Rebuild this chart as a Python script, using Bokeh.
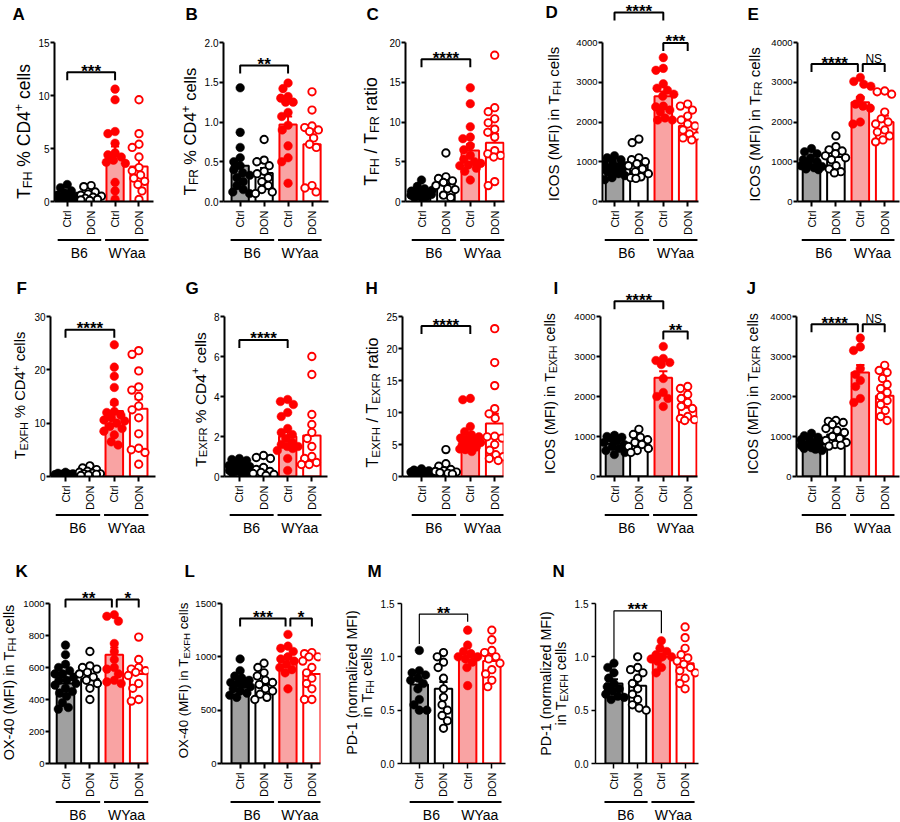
import math
from bokeh.plotting import figure
from bokeh.layouts import row, column
from bokeh.models import FixedTicker, Range1d, PrintfTickFormatter, ColumnDataSource
from bokeh.core.properties import value
from bokeh.embed import file_html
from bokeh.resources import INLINE

FONT = "Liberation Sans"
BLACK = "#000000"
RED = "#ff0000"
GRAY = "#a0a0a0"
PINK = "#f9a3a3"

CATEGORY_LABELS = ["Ctrl", "DON", "Ctrl", "DON"]
GROUP_LABELS = ["B6", "WYaa"]

# ---------------- data ----------------
A_B6_CTRL = [1.6, 1.3, 1.0, 0.8, 0.6, 0.5, 0.45, 0.4, 0.35, 0.3, 0.25, 0.2, 0.2, 0.15, 0.1]
A_B6_DON = [1.5, 1.4, 0.9, 0.7, 0.6, 0.5, 0.4, 0.3, 0.2, 0.15, 0.1]
A_WY_CTRL = [10.6, 9.6, 6.6, 6.4, 5.5, 4.6, 4.4, 4.2, 3.9, 3.7, 3.6, 1.8, 1.0, 0.2]
A_WY_DON = [9.6, 6.4, 5.4, 5.1, 4.2, 3.2, 2.9, 2.5, 2.2, 1.9, 1.6, 1.0, 0.2]
A_MEAN = [0.5, 0.6, 4.3, 3.3]
A_SEM = [0.1, 0.15, 0.9, 0.8]
A_TICKS = [0, 5, 10, 15]

B_B6_CTRL = [1.43, 0.87, 0.68, 0.55, 0.5, 0.45, 0.4, 0.36, 0.33, 0.3, 0.25, 0.2, 0.15, 0.12, 0.1]
B_B6_DON = [0.78, 0.52, 0.5, 0.45, 0.38, 0.35, 0.3, 0.25, 0.2, 0.15, 0.12, 0.1]
B_WY_CTRL = [1.49, 1.42, 1.32, 1.3, 1.25, 1.25, 1.12, 1.07, 0.96, 0.9, 0.7, 0.55, 0.5, 0.23]
B_WY_DON = [1.38, 1.15, 0.95, 0.93, 0.9, 0.88, 0.8, 0.72, 0.68, 0.2, 0.17, 0.12]
B_MEAN = [0.45, 0.36, 0.97, 0.72]
B_SEM = [0.09, 0.06, 0.1, 0.12]
B_TICKS = [0, 0.5, 1.0, 1.5, 2.0]

C_B6_CTRL = [2.7, 1.9, 1.6, 1.4, 1.3, 1.2, 1.1, 1.0, 1.0, 0.9, 0.8, 0.7, 0.6, 0.5, 0.4]
C_B6_DON = [6.1, 3.1, 2.9, 2.6, 2.4, 2.0, 1.6, 1.5, 0.8, 0.5]
C_WY_CTRL = [14.3, 12.3, 9.4, 8.1, 7.9, 7.0, 6.5, 5.8, 5.3, 5.0, 4.8, 4.6, 4.5, 4.2, 3.8, 2.7]
C_WY_DON = [18.4, 11.8, 11.3, 10.4, 9.9, 9.1, 8.7, 8.1, 6.4, 6.0, 5.8, 5.6, 2.5, 2.0]
C_MEAN = [1.1, 2.2, 6.4, 7.4]
C_SEM = [0.15, 0.5, 0.8, 1.1]
C_TICKS = [0, 5, 10, 15, 20]

D_B6_CTRL = [1150, 1100, 1050, 1000, 950, 900, 880, 850, 820, 800, 780, 750, 700, 650, 600, 550]
D_B6_DON = [1570, 1480, 1100, 1050, 1000, 950, 900, 820, 750, 700, 620, 600, 580]
D_WY_CTRL = [3620, 3350, 3300, 2960, 2850, 2800, 2700, 2650, 2400, 2380, 2300, 2250, 2100, 2050, 2050]
D_WY_DON = [2450, 2400, 2300, 2150, 2050, 1950, 1900, 1800, 1700, 1650, 1600, 1550]
D_MEAN = [870, 910, 2650, 1900]
D_SEM = [45, 85, 120, 90]
D_TICKS = [0, 1000, 2000, 3000, 4000]

E_B6_CTRL = [1330, 1250, 1200, 1100, 1050, 1000, 950, 900, 880, 850, 820, 800]
E_B6_DON = [1650, 1380, 1300, 1270, 1200, 1150, 1100, 1050, 900, 820, 750, 720]
E_WY_CTRL = [3120, 3020, 2950, 2900, 2600, 2450, 2400, 2350, 2000, 1950]
E_WY_DON = [2780, 2760, 2700, 2250, 2080, 2000, 1950, 1800, 1750, 1650, 1550, 1500]
E_MEAN = [1000, 1120, 2500, 2000]
E_SEM = [45, 80, 130, 160]
E_TICKS = [0, 1000, 2000, 3000, 4000]

F_B6_CTRL = [0.8, 0.6, 0.5, 0.4, 0.4, 0.35, 0.3, 0.3, 0.25, 0.2, 0.2, 0.15, 0.1, 0.1]
F_B6_DON = [2.0, 1.6, 1.3, 1.0, 0.8, 0.6, 0.5, 0.5, 0.4, 0.3, 0.2]
F_WY_CTRL = [24.7, 20.5, 18.8, 16.7, 13.9, 12.2, 12.0, 11.5, 11.0, 10.6, 10.4, 10.0, 9.4, 9.0, 8.5, 7.8, 6.5, 5.9]
F_WY_DON = [23.6, 22.9, 19.8, 16.8, 16.2, 15.0, 13.2, 12.5, 11.0, 8.0, 5.3, 5.0, 4.5, 2.3]
F_MEAN = [0.3, 0.8, 12.3, 12.7]
F_SEM = [0.05, 0.18, 1.2, 1.8]
F_TICKS = [0, 10, 20, 30]

G_B6_CTRL = [0.9, 0.85, 0.8, 0.7, 0.6, 0.55, 0.5, 0.45, 0.4, 0.35, 0.3, 0.3, 0.25, 0.2, 0.2, 0.15]
G_B6_DON = [1.05, 0.95, 0.9, 0.45, 0.35, 0.25, 0.2, 0.15, 0.1, 0.05]
G_WY_CTRL = [3.85, 3.75, 3.6, 3.2, 3.0, 2.4, 2.2, 2.1, 1.9, 1.7, 1.6, 1.5, 1.5, 1.4, 1.3, 0.9, 0.3]
G_WY_DON = [6.0, 5.1, 3.1, 2.6, 2.2, 1.9, 1.5, 1.0, 0.9, 0.7, 0.6, 0.6]
G_MEAN = [0.45, 0.4, 2.0, 2.05]
G_SEM = [0.06, 0.12, 0.22, 0.5]
G_TICKS = [0, 2, 4, 6, 8]

H_B6_CTRL = [1.2, 1.0, 0.9, 0.8, 0.75, 0.7, 0.6, 0.6, 0.5, 0.45, 0.4, 0.35, 0.3, 0.3, 0.25]
H_B6_DON = [4.2, 2.0, 1.6, 1.1, 0.9, 0.8, 0.7, 0.6, 0.5, 0.4]
H_WY_CTRL = [12.2, 12.0, 7.8, 7.0, 6.5, 6.2, 6.0, 5.8, 5.5, 5.3, 5.0, 4.8, 4.6, 4.3, 4.2, 3.9]
H_WY_DON = [23.1, 17.8, 14.2, 10.6, 9.8, 9.1, 6.3, 6.2, 6.0, 5.0, 4.1, 3.4, 3.1, 2.8, 2.5]
H_MEAN = [0.6, 1.3, 6.0, 8.3]
H_SEM = [0.07, 0.35, 0.6, 1.5]
H_TICKS = [0, 5, 10, 15, 20, 25]

I_B6_CTRL = [1030, 1000, 980, 950, 900, 850, 800, 750, 700, 650, 600, 550]
I_B6_DON = [1180, 1050, 980, 920, 850, 800, 750, 700, 650, 600]
I_WY_CTRL = [3250, 2950, 2900, 2850, 2800, 2450, 2100, 2000, 1950, 1750]
I_WY_DON = [2250, 2200, 2050, 1950, 1850, 1750, 1700, 1500, 1450, 1420, 1400]
I_MEAN = [820, 800, 2470, 1720]
I_SEM = [45, 50, 160, 80]
I_TICKS = [0, 1000, 2000, 3000, 4000]

J_B6_CTRL = [1080, 1020, 980, 950, 920, 880, 850, 800, 780, 750, 720, 700, 680, 650]
J_B6_DON = [1400, 1380, 1350, 1300, 1200, 1150, 1100, 1000, 950, 900, 850, 800, 780, 760]
J_WY_CTRL = [3460, 3240, 3150, 2700, 2550, 2400, 2250, 1950, 1850]
J_WY_DON = [2780, 2650, 2600, 2450, 2300, 2200, 2100, 2000, 1900, 1800, 1650, 1500, 1400]
J_MEAN = [840, 1050, 2600, 2020]
J_SEM = [35, 55, 190, 110]
J_TICKS = [0, 1000, 2000, 3000, 4000]

K_B6_CTRL = [740, 680, 620, 600, 580, 560, 560, 540, 520, 520, 500, 490, 470, 450, 440, 420, 380, 350, 340]
K_B6_DON = [700, 610, 600, 590, 570, 560, 540, 520, 500, 470, 400]
K_WY_CTRL = [930, 920, 890, 750, 700, 650, 600, 590, 560, 520, 510, 500]
K_WY_DON = [790, 650, 600, 590, 580, 570, 550, 500, 470, 400, 390]
K_MEAN = [500, 530, 680, 560]
K_SEM = [25, 25, 45, 35]
K_TICKS = [0, 200, 400, 600, 800, 1000]

L_B6_CTRL = [980, 870, 820, 800, 780, 760, 750, 740, 720, 700, 680, 660, 640, 620]
L_B6_DON = [940, 900, 850, 820, 780, 760, 740, 700, 680, 650, 620, 600]
L_WY_CTRL = [1210, 1100, 1080, 1050, 1000, 980, 960, 930, 900, 880, 850, 700]
L_WY_DON = [1040, 1030, 1000, 1000, 960, 900, 850, 800, 750, 700, 600, 600]
L_MEAN = [760, 740, 980, 840]
L_SEM = [25, 30, 35, 45]
L_TICKS = [0, 500, 1000, 1500]

M_B6_CTRL = [1.06, 0.87, 0.85, 0.83, 0.8, 0.78, 0.75, 0.7, 0.6, 0.55, 0.5, 0.5]
M_B6_DON = [1.04, 1.0, 0.95, 0.9, 0.8, 0.7, 0.62, 0.55, 0.5, 0.45, 0.4, 0.33]
M_WY_CTRL = [1.25, 1.11, 1.05, 1.03, 1.0, 1.0, 0.98, 0.95, 0.9, 0.73]
M_WY_DON = [1.25, 1.16, 1.06, 1.04, 1.0, 0.98, 0.94, 0.88, 0.84, 0.78, 0.72]
M_MEAN = [0.74, 0.70, 1.0, 0.96]
M_SEM = [0.05, 0.065, 0.04, 0.05]
M_TICKS = [0, 0.5, 1.0, 1.5]

N_B6_CTRL = [0.94, 0.9, 0.85, 0.8, 0.75, 0.72, 0.7, 0.68, 0.65, 0.63, 0.62, 0.6]
N_B6_DON = [1.0, 0.9, 0.88, 0.85, 0.8, 0.75, 0.7, 0.65, 0.6, 0.55, 0.52, 0.5]
N_WY_CTRL = [1.15, 1.08, 1.05, 1.02, 1.0, 1.0, 0.98, 0.96, 0.9, 0.85]
N_WY_DON = [1.28, 1.18, 1.08, 1.02, 0.99, 0.96, 0.93, 0.9, 0.87, 0.85, 0.8, 0.75, 0.7]
N_MEAN = [0.75, 0.73, 1.0, 0.94]
N_SEM = [0.04, 0.05, 0.03, 0.05]
N_TICKS = [0, 0.5, 1.0, 1.5]

# ---------------- title texts ----------------
T_FH = [("T", "n"), ("FH", "sub")]
T_FR = [("T", "n"), ("FR", "sub")]
T_EXFH = [("T", "n"), ("EXFH", "sub")]
T_EXFR = [("T", "n"), ("EXFR", "sub")]
PCT = [(" % CD4", "n"), ("+", "sup"), (" cells", "n")]
CELLS = [(" cells", "n")]
ICOS = [("ICOS (MFI) in ", "n")]
OX40 = [("OX-40 (MFI) in ", "n")]
RATIO = [(" ratio", "n")]
SLASH = [(" / ", "n")]

# ---------------- layout (canvas pixels) ----------------
ROWS = [dict(top=0, height=265, zero=201, axis_top=42, tstrip=0),
        dict(top=265, height=280, zero=476, axis_top=316, tstrip=0),
        dict(top=545, height=277, zero=763, axis_top=603, tstrip=34)]

PANELS = [
    dict(letter="A", row=0, left=0, width=180, axis=50, right=153, cat1=65,
         data=(A_B6_CTRL, A_B6_DON, A_WY_CTRL, A_WY_DON), mean=A_MEAN, sem=A_SEM,
         ymax=15, ticks=A_TICKS, fmt="%d", title=[T_FH + PCT], tfs=17.5, tbx=[29.5], tcy=131,
         lpos=(12, 4), brackets=[(1, 3, 12.2, "***", None, None)]),
    dict(letter="B", row=0, left=180, width=180, axis=221, right=328, cat1=238,
         data=(B_B6_CTRL, B_B6_DON, B_WY_CTRL, B_WY_DON), mean=B_MEAN, sem=B_SEM,
         ymax=2, ticks=B_TICKS, fmt="%.1f", title=[T_FR + PCT], tfs=16.5, tbx=[195.6], tcy=131,
         lpos=(185, 4), brackets=[(1, 3, 1.71, "**", None, None)]),
    dict(letter="C", row=0, left=360, width=180, axis=405, right=504, cat1=421,
         data=(C_B6_CTRL, C_B6_DON, C_WY_CTRL, C_WY_DON), mean=C_MEAN, sem=C_SEM,
         ymax=20, ticks=C_TICKS, fmt="%d", title=[T_FH + SLASH + T_FR + RATIO], tfs=17.5, tbx=[377], tcy=131,
         lpos=(366, 4), brackets=[(1, 3, 17.9, "****", None, None)]),
    dict(letter="D", row=0, left=540, width=180, axis=602, right=698, cat1=614,
         data=(D_B6_CTRL, D_B6_DON, D_WY_CTRL, D_WY_DON), mean=D_MEAN, sem=D_SEM,
         ymax=4000, ticks=D_TICKS, fmt="%d", title=[ICOS + T_FH + CELLS], tfs=15, tbx=[558], tcy=123.5,
         lpos=(545, 2), brackets=[(1, 3, 4754, "****", None, None), (3, 4, 3990, "***", None, None)]),
    dict(letter="E", row=0, left=720, width=180, axis=797, right=899, cat1=811,
         data=(E_B6_CTRL, E_B6_DON, E_WY_CTRL, E_WY_DON), mean=E_MEAN, sem=E_SEM,
         ymax=4000, ticks=E_TICKS, fmt="%d", title=[ICOS + T_FR + CELLS], tfs=15, tbx=[759], tcy=124,
         lpos=(747, 4), brackets=[(1, 2.9, 3457, "****", None, None), (3.1, 4, 3457, "NS", None, None)]),
    dict(letter="F", row=1, left=0, width=180, axis=50, right=155, cat1=65,
         data=(F_B6_CTRL, F_B6_DON, F_WY_CTRL, F_WY_DON), mean=F_MEAN, sem=F_SEM,
         ymax=30, ticks=F_TICKS, fmt="%d", title=[T_EXFH + PCT], tfs=14.7, tbx=[25], tcy=395,
         lpos=(16, 278), brackets=[(1, 3, 27.5, "****", None, None)]),
    dict(letter="G", row=1, left=180, width=180, axis=223, right=327, cat1=238,
         data=(G_B6_CTRL, G_B6_DON, G_WY_CTRL, G_WY_DON), mean=G_MEAN, sem=G_SEM,
         ymax=8, ticks=G_TICKS, fmt="%d", title=[T_EXFR + PCT], tfs=15.5, tbx=[205], tcy=399,
         lpos=(185, 278), brackets=[(1, 3, 6.83, "****", None, None)]),
    dict(letter="H", row=1, left=360, width=180, axis=402, right=503, cat1=421,
         data=(H_B6_CTRL, H_B6_DON, H_WY_CTRL, H_WY_DON), mean=H_MEAN, sem=H_SEM,
         ymax=25, ticks=H_TICKS, fmt="%d", title=[T_EXFH + SLASH + T_EXFR + RATIO], tfs=16, tbx=[377.5], tcy=402,
         lpos=(365, 278), brackets=[(1, 3, 23.5, "****", None, None)]),
    dict(letter="I", row=1, left=540, width=180, axis=600, right=697, cat1=614,
         data=(I_B6_CTRL, I_B6_DON, I_WY_CTRL, I_WY_DON), mean=I_MEAN, sem=I_SEM,
         ymax=4000, ticks=I_TICKS, fmt="%d", title=[ICOS + T_EXFH + CELLS], tfs=14.3, tbx=[555], tcy=393,
         lpos=(553, 278), brackets=[(1, 3, 4383, "****", None, None), (3, 4, 3625, "**", None, None)]),
    dict(letter="J", row=1, left=720, width=180, axis=796, right=899, cat1=811,
         data=(J_B6_CTRL, J_B6_DON, J_WY_CTRL, J_WY_DON), mean=J_MEAN, sem=J_SEM,
         ymax=4000, ticks=J_TICKS, fmt="%d", title=[ICOS + T_EXFR + CELLS], tfs=14.3, tbx=[758], tcy=393,
         lpos=(746, 278), brackets=[(1, 2.9, 3807, "****", None, None), (3.1, 4, 3807, "NS", None, None)]),
    dict(letter="K", row=2, left=0, width=175, axis=49, right=148, cat1=65,
         data=(K_B6_CTRL, K_B6_DON, K_WY_CTRL, K_WY_DON), mean=K_MEAN, sem=K_SEM,
         ymax=1000, ticks=K_TICKS, fmt="%d", title=[OX40 + T_FH + CELLS], tfs=14.5, tbx=[14], tcy=682,
         lpos=(15, 561), brackets=[(1, 2.9, 1025, "**", None, None), (3.1, 4, 1025, "*", None, None)]),
    dict(letter="L", row=2, left=175, width=165, axis=218, right=320, cat1=238,
         data=(L_B6_CTRL, L_B6_DON, L_WY_CTRL, L_WY_DON), mean=L_MEAN, sem=L_SEM,
         ymax=1500, ticks=L_TICKS, fmt="%d", title=[OX40 + T_EXFH + CELLS], tfs=13.3, tbx=[187.8], tcy=680,
         lpos=(184, 561), brackets=[(1, 2.9, 1359, "***", None, None), (3.1, 4, 1359, "*", None, None)]),
    dict(letter="M", row=2, left=340, width=190, axis=400, right=505, cat1=418,
         data=(M_B6_CTRL, M_B6_DON, M_WY_CTRL, M_WY_DON), mean=M_MEAN, sem=M_SEM,
         ymax=1.5, ticks=M_TICKS, fmt="%.1f",
         title=[[("PD-1 (normalized MFI)", "n")], [("in ", "n")] + T_FH + CELLS], tfs=14.3, tbx=[357, 372], tcy=682,
         lpos=(367, 561), brackets=[(1, 3, 1.40, "**", 1.12, 1.33)], thin=True),
    dict(letter="N", row=2, left=530, width=190, axis=592, right=698, cat1=611,
         data=(N_B6_CTRL, N_B6_DON, N_WY_CTRL, N_WY_DON), mean=N_MEAN, sem=N_SEM,
         ymax=1.5, ticks=N_TICKS, fmt="%.1f",
         title=[[("PD-1 (normalized MFI)", "n")], [("in ", "n")] + T_EXFH + CELLS], tfs=14.3, tbx=[551, 566], tcy=683,
         lpos=(552, 561), brackets=[(1, 3, 1.43, "***", 0.96, 1.22)], thin=True),
]

CAT_STEP = 24.4      # px between category centres
BAR_W = 0.72         # bar width in category units
X_BORDER = 37        # px below the x axis kept for the rotated tick labels
SUB_DX = 0.12        # subscript baseline shift (em of the main size)
SUP_DX = -0.42       # superscript baseline shift
SMALL = 0.72         # sub/superscript size factor

# Arial / Liberation Sans advance widths (1/1000 em)
AW = {" ": 278, "%": 889, "(": 333, ")": 333, "+": 584, "-": 333, "/": 278, ".": 278,
      "0": 556, "1": 556, "2": 556, "3": 556, "4": 556, "5": 556, "6": 556, "8": 556,
      "A": 667, "B": 667, "C": 722, "D": 722, "E": 667, "F": 611, "G": 778, "H": 722,
      "I": 278, "J": 500, "K": 667, "L": 556, "M": 833, "N": 722,
      "O": 778, "P": 667, "R": 722, "S": 667, "T": 611, "X": 667,
      "a": 556, "c": 500, "d": 556, "e": 556, "i": 222, "l": 222, "m": 833, "n": 556,
      "o": 556, "r": 333, "s": 500, "t": 278, "z": 500}


def tw(s, f):
    return sum(AW.get(c, 556) for c in s) / 1000.0 * f


def swarm(vals, ppu_y, ppu_x, dot=7.6, maxw=10.5):
    """Deterministic beeswarm layout: horizontal offsets so dots do not overlap."""
    order = sorted(range(len(vals)), key=lambda i: -vals[i])
    placed = []
    xs = [0.0] * len(vals)
    for i in order:
        y = vals[i] * ppu_y
        near = [(px, py) for px, py in placed if abs(py - y) < dot]
        cands = [0.0]
        for px, py in near:
            dx = math.sqrt(dot * dot - (py - y) ** 2)
            cands += [px + dx, px - dx]
        cands.sort(key=lambda c: (abs(c), c))
        chosen = None
        for c in cands:
            if abs(c) > maxw + 1e-9:
                continue
            if all((c - px) ** 2 + (y - py) ** 2 >= dot * dot - 1e-6 for px, py in near):
                chosen = c
                break
        if chosen is None:
            best = None
            k = -maxw
            while k <= maxw + 1e-9:
                dmin = min(math.hypot(k - px, y - py) for px, py in near)
                if best is None or dmin > best[0] + 1e-9:
                    best = (dmin, k)
                k += 0.5
            chosen = best[1]
        placed.append((chosen, y))
        xs[i] = chosen / ppu_x
    return xs


def bare_figure(w, h, xr, yr, mbl=0, mbr=0):
    p = figure(width=w, height=h, x_range=xr, y_range=yr, x_axis_type=None, y_axis_type=None,
               output_backend="svg", toolbar_location=None,
               min_border_left=mbl, min_border_right=mbr, min_border_top=0, min_border_bottom=0)
    p.outline_line_color = None
    p.background_fill_color = "white"
    p.border_fill_color = "white"
    p.xgrid.visible = False
    p.ygrid.visible = False
    return p


def title_extent(P):
    """right-most pixel (panel coords) reached by the rotated title text boxes"""
    f = P["tfs"]
    ext = 0
    for line, bx in zip(P["title"], P["tbx"]):
        has_sub = any(k == "sub" for _, k in line)
        ext = max(ext, bx - P["left"] + (0.27 * f if has_sub else 0.21 * f) + 0.5)
    return int(math.ceil(ext))


def make_panel(P):
    R = ROWS[P["row"]]
    H = R["height"]
    TS = R["tstrip"]
    top = R["top"] + TS
    thin = P.get("thin", False)
    lw = 1.5 if thin else 2

    SL = title_extent(P)
    if TS == 0:
        lx = P["lpos"][0] - P["left"]
        SL = max(SL, int(math.ceil(lx + tw(P["letter"], 17) * 1.1)) + 1)
    tick_fs = 9.5 if P["ymax"] >= 1000 else 10
    standoff = 3 if thin else 1
    need = 4 + standoff + max(tw(P["fmt"] % t, tick_fs) for t in P["ticks"])
    mbl = max(P["axis"] - P["left"] - SL, int(math.ceil(need)))
    mw = P["width"] - SL
    mbr = P["left"] + P["width"] - P["right"]

    fh = R["zero"] - top
    main_h = fh + X_BORDER
    ppu = (R["zero"] - R["axis_top"]) / P["ymax"]
    yend = fh / ppu
    frame_w = mw - mbl - mbr
    x0 = 1 - (P["cat1"] - (P["left"] + SL + mbl)) / CAT_STEP
    x1 = x0 + frame_w / CAT_STEP
    xr = Range1d(x0, x1)

    p = figure(width=mw, height=main_h, x_range=xr, y_range=Range1d(0, yend),
               output_backend="svg", toolbar_location=None,
               min_border_left=mbl, min_border_right=mbr,
               min_border_top=0, min_border_bottom=X_BORDER)
    p.xgrid.visible = False
    p.ygrid.visible = False
    p.outline_line_color = None
    p.background_fill_color = "white"
    p.border_fill_color = "white"

    yax = p.yaxis[0]
    yax.ticker = FixedTicker(ticks=P["ticks"])
    yax.formatter = PrintfTickFormatter(format=P["fmt"])
    yax.bounds = (0, P["ymax"])
    yax.axis_line_width = lw
    yax.axis_line_color = BLACK
    yax.major_tick_line_width = lw
    yax.major_tick_line_color = BLACK
    yax.major_tick_out = 4
    yax.major_tick_in = 0
    yax.minor_tick_line_color = None
    yax.major_label_standoff = standoff
    yax.major_label_text_font = FONT
    yax.major_label_text_font_size = f"{tick_fs}px"
    yax.major_label_text_color = BLACK

    xax = p.xaxis[0]
    xax.ticker = FixedTicker(ticks=[1, 2, 3, 4])
    xax.major_label_overrides = {i + 1: t for i, t in enumerate(CATEGORY_LABELS)}
    xax.major_label_orientation = math.pi / 2
    xax.axis_line_width = lw
    xax.axis_line_color = BLACK
    xax.major_tick_line_width = lw
    xax.major_tick_line_color = BLACK
    xax.major_tick_out = 5
    xax.major_tick_in = 0
    xax.minor_tick_line_color = None
    xax.major_label_standoff = 4
    xax.major_label_text_font = FONT
    xax.major_label_text_font_size = "11px"
    xax.major_label_text_color = BLACK

    # bars (group means)
    xs = [1, 2, 3, 4]
    fills = [GRAY, "white", PINK, "white"]
    lines = [BLACK, BLACK, RED, RED]
    src = ColumnDataSource(dict(x=xs, top=P["mean"], fill=fills, line=lines))
    p.vbar(x="x", top="top", bottom=0, width=BAR_W, fill_color="fill", line_color="line",
           line_width=2, source=src)

    # SEM whiskers
    hi = [m + s for m, s in zip(P["mean"], P["sem"])]
    p.segment(x0=xs, y0=P["mean"], x1=xs, y1=hi, line_color=lines, line_width=2)
    p.segment(x0=[x - 0.17 for x in xs], y0=hi, x1=[x + 0.17 for x in xs], y1=hi,
              line_color=lines, line_width=2)

    # individual animals
    for gi, vals in enumerate(P["data"]):
        offs = swarm(vals, ppu, CAT_STEP)
        col = lines[gi]
        px = [gi + 1 + o for o in offs]
        if gi % 2 == 0:
            p.scatter(px, vals, marker="circle", size=8.6, fill_color=col, line_color=col,
                      line_width=0.5)
        else:
            p.scatter(px, vals, marker="circle", size=7.4, fill_color="white", line_color=col,
                      line_width=1.9)

    # significance brackets
    drop = 8 / ppu
    for (bx1, bx2, by, txt, yl, yr) in P["brackets"]:
        yl = by - drop if yl is None else yl
        yr = by - drop if yr is None else yr
        p.multi_line(xs=[[bx1, bx1, bx2, bx2]], ys=[[yl, by, by, yr]], line_color=BLACK,
                     line_width=1.2 if thin else 2)
        if txt == "NS":
            p.text(x=[(bx1 + bx2) / 2], y=[by], text=[txt], text_align="center",
                   text_baseline="alphabetic", text_font=value(FONT), text_font_size="12px",
                   text_color=BLACK, y_offset=-5)
        else:
            p.text(x=[(bx1 + bx2) / 2], y=[by], text=[txt], text_align="center",
                   text_baseline="alphabetic", text_font=value(FONT), text_font_size="17px",
                   text_font_style="bold", text_color=BLACK, y_offset=-1)

    # bottom strip: group lines + group names (same x scale as the plot)
    bh = H - TS - main_h
    bs = bare_figure(mw, bh, xr, Range1d(0, bh), mbl=mbl, mbr=mbr)
    y_line = (R["top"] + H) - (R["zero"] + 38.5)
    y_lab = (R["top"] + H) - (R["zero"] + 51)
    bs.segment(x0=[0.6, 2.58], y0=[y_line, y_line], x1=[2.42, 4.4], y1=[y_line, y_line],
               line_color=BLACK, line_width=2)
    bs.text(x=[1.5, 3.5], y=[y_lab, y_lab], text=GROUP_LABELS, text_align="center",
            text_baseline="middle", text_font=value(FONT), text_font_size="14px",
            text_color=BLACK)

    # left strip: rotated y-axis title (with sub/superscripts)
    LH = H - TS
    ls = bare_figure(SL, LH, Range1d(0, SL), Range1d(0, LH))
    f = P["tfs"]
    for line, bx in zip(P["title"], P["tbx"]):
        segs = []
        total = 0.0
        for txt, kind in line:
            fs = f if kind == "n" else SMALL * f
            segs.append((txt, kind, fs, total))
            total += tw(txt, fs)
        y0 = (R["top"] + H - P["tcy"]) - total / 2
        for txt, kind, fs, start in segs:
            core = txt.lstrip(" ")
            lead = tw(txt[:len(txt) - len(core)], fs)
            core = core.rstrip(" ")
            if not core:
                continue
            base = bx - P["left"] + (0 if kind == "n" else (SUB_DX * f if kind == "sub" else SUP_DX * f))
            ls.text(x=[base - 0.35 * fs], y=[y0 + start + lead], text=[core],
                    angle=math.pi / 2, text_align="left", text_baseline="middle",
                    text_font=value(FONT), text_font_size=f"{fs:.1f}px", text_color=BLACK)

    lx, ly = P["lpos"]
    letter_kw = dict(text=[P["letter"]], text_align="left", text_baseline="top",
                     text_font=value(FONT), text_font_size="17px", text_font_style="bold",
                     text_color=BLACK)
    body = row(ls, column(p, bs, spacing=0), spacing=0)
    if TS == 0:
        ls.text(x=[lx - P["left"]], y=[R["top"] + H - ly], **letter_kw)
        return body
    ts = bare_figure(P["width"], TS, Range1d(0, P["width"]), Range1d(0, TS))
    ts.text(x=[lx - P["left"]], y=[R["top"] + TS - ly], **letter_kw)
    return column(ts, body, spacing=0)


panels = [make_panel(P) for P in PANELS]
layout = column(row(*panels[0:5], spacing=0), row(*panels[5:10], spacing=0),
                row(*panels[10:14], spacing=0), spacing=0)

open("out.html", "w").write(file_html(layout, INLINE))
